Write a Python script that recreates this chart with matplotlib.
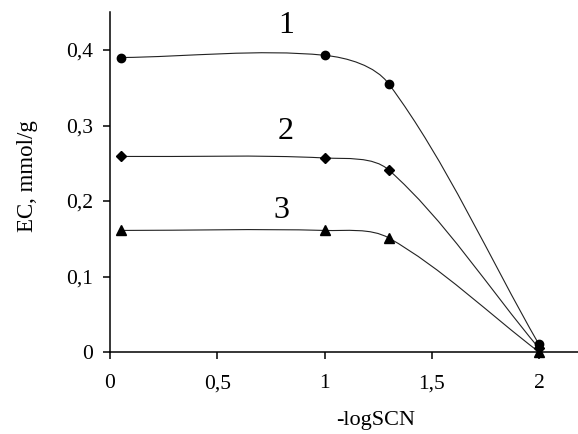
import numpy as np
import matplotlib
matplotlib.use("Agg")
import matplotlib.pyplot as plt
from matplotlib.path import Path
from matplotlib.patches import PathPatch

# -logSCN values and exchange capacity (mmol/g) for the three curves
log_scn = [0.05, 1.0, 1.3, 2.0]
ec_1 = [0.390, 0.393, 0.355, 0.010]
ec_2 = [0.259, 0.257, 0.241, 0.005]
ec_3 = [0.161, 0.161, 0.151, 0.000]

curve_labels = ["1", "2", "3"]
label_x = [0.82, 0.82, 0.80]
label_y = [0.433, 0.292, 0.188]

x_ticks = [0, 0.5, 1, 1.5, 2]
x_ticklabels = ["0", "0,5", "1", "1,5", "2"]
y_ticks = [0, 0.1, 0.2, 0.3, 0.4]
y_ticklabels = ["0", "0,1", "0,2", "0,3", "0,4"]


def smooth_line(ax, xs, ys, **kw):
    """Draw a smoothed line (cubic Bezier through the points) like a
    spreadsheet 'smoothed line' series."""
    pts = ax.transData.transform(np.column_stack([xs, ys]))
    n = len(pts)
    verts = [pts[0]]
    codes = [Path.MOVETO]
    for i in range(n - 1):
        p0 = pts[i - 1] if i > 0 else None
        p1, p2 = pts[i], pts[i + 1]
        p3 = pts[i + 2] if i + 2 < n else None
        d12 = np.hypot(*(p2 - p1))
        if p0 is None:
            c1 = p1 + (p2 - p1) / 3
        else:
            d01 = np.hypot(*(p1 - p0))
            c1 = p1 + (p2 - p0) * d12 / (d01 + d12) / 3
        if p3 is None:
            c2 = p2 - (p2 - p1) / 3
        else:
            d23 = np.hypot(*(p3 - p2))
            c2 = p2 - (p3 - p1) * d12 / (d12 + d23) / 3
        verts += [c1, c2, p2]
        codes += [Path.CURVE4] * 3
    verts = ax.transData.inverted().transform(np.array(verts))
    patch = PathPatch(Path(verts, codes), fill=False, transform=ax.transData, **kw)
    ax.add_patch(patch)


plt.rcParams["font.family"] = ["Liberation Serif", "DejaVu Serif"]

fig = plt.figure(figsize=(5.78, 4.34), dpi=100)
ax = fig.add_axes([110 / 578, 1 - 352 / 434, 468 / 578, 340 / 434])
ax.set_xlim(0, 468 / 214.5)
ax.set_ylim(0, 340 / 755)

for ys, marker, ms in [(ec_1, "o", 6), (ec_2, "D", 4.6), (ec_3, "^", 6.5)]:
    smooth_line(ax, log_scn, ys, color="#222222", lw=0.8)
    ax.plot(log_scn, ys, linestyle="none", marker=marker, color="black",
            markersize=ms, clip_on=False, zorder=3)

for t, lx, ly in zip(curve_labels, label_x, label_y):
    ax.text(lx, ly, t, fontsize=23, ha="center", va="center")

ax.spines["top"].set_visible(False)
ax.spines["right"].set_visible(False)
for s in ["left", "bottom"]:
    ax.spines[s].set_linewidth(1.1)

ax.set_xticks(x_ticks)
ax.set_xticklabels(x_ticklabels)
ax.set_yticks(y_ticks)
ax.set_yticklabels(y_ticklabels)
ax.tick_params(axis="both", direction="out", length=5, width=1.1, labelsize=15.5)
ax.tick_params(axis="x", pad=11)
ax.tick_params(axis="y", pad=7)

fig.text(376 / 578, 1 - 420 / 434, "-logSCN", fontsize=16, ha="center", va="center")
fig.text(28 / 578, 1 - 176 / 434, "EC, mmol/g", fontsize=16.5, ha="center",
         va="center", rotation=90)

fig.savefig("out.png", dpi=100)
